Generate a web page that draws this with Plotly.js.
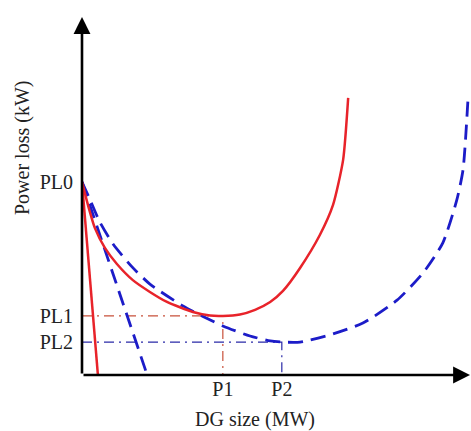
<!DOCTYPE html>
<html>
<head>
<meta charset="utf-8">
<script src="https://cdn.plot.ly/plotly-3.0.1.min.js"></script>
<style>html,body{margin:0;padding:0;background:#fff;}#chart{width:471px;height:431px;}</style>
</head>
<body>
<div id="chart"></div>
<script>
// Power loss vs DG size (schematic) (arbitrary units)
const redX  = [0, 0.10, 0.21, 0.33, 0.59, 0.90, 1.31, 1.75, 2.19, 2.86, 3.30, 3.63, 4.07, 4.46, 4.85, 5.18, 5.62, 6.13, 6.47, 6.73, 6.86];
const redY  = [5.39, 4.97, 4.53, 4.11, 3.55, 3.10, 2.65, 2.32, 2.04, 1.76, 1.66, 1.65, 1.69, 1.82, 2.04, 2.35, 2.99, 3.91, 4.75, 6.01, 7.74];
const blueX = [0, 0.21, 0.46, 0.80, 1.29, 1.75, 2.60, 3.63, 4.33, 4.85, 5.15, 5.62, 6.39, 7.24, 8.12, 8.79, 9.30, 9.66, 9.82, 9.95];
const blueY = [5.39, 4.89, 4.27, 3.66, 3.02, 2.54, 1.93, 1.37, 1.09, 0.95, 0.92, 0.92, 1.12, 1.45, 2.09, 2.85, 3.69, 4.89, 5.73, 7.74];
const redTangentX  = [0, 0.41];
const redTangentY  = [5.39, 0];
const blueTangentX = [0, 1.68];
const blueTangentY = [5.39, 0];
const PL0 = 5.39, PL1 = 1.65, PL2 = 0.92;
const P1 = 3.63, P2 = 5.15;
const yTickVals = [PL0, PL1, PL2];
const yTickText = ['PL0', 'PL1', 'PL2'];
const xTickVals = [P1, P2];
const xTickText = ['P1', 'P2'];
const xTitle = 'DG size (MW)';
const yTitle = 'Power loss (kW)';

const RED = '#e8232a', BLUE = '#1c1cc8';
const FONT = {family: '"Liberation Serif", "Times New Roman", serif', size: 20, color: '#222'};

const traces = [
  {x: [0, P1, P1], y: [PL1, PL1, 0], mode: 'lines', line: {color: '#c8503a', width: 1.2, dash: '10px,5px,2px,5px'}, hoverinfo: 'skip'},
  {x: [0, P2, P2], y: [PL2, PL2, 0], mode: 'lines', line: {color: '#2a2aa8', width: 1.2, dash: '10px,5px,2px,5px'}, hoverinfo: 'skip'},
  {x: redTangentX, y: redTangentY, mode: 'lines', line: {color: RED, width: 2.5}},
  {x: blueTangentX, y: blueTangentY, mode: 'lines', line: {color: BLUE, width: 2.8, dash: '15px,8px'}},
  {x: blueX, y: blueY, mode: 'lines', line: {color: BLUE, width: 2.8, dash: '15px,8px', shape: 'spline', smoothing: 0.6}},
  {x: redX, y: redY, mode: 'lines', line: {color: RED, width: 2.5, shape: 'spline', smoothing: 0.6}}
];

const layout = {
  width: 471, height: 431,
  margin: {l: 82, r: 1, t: 17, b: 56, pad: 0},
  paper_bgcolor: '#fff', plot_bgcolor: '#fff',
  showlegend: false,
  font: FONT,
  xaxis: {range: [0, 10], showgrid: false, zeroline: false, showline: false,
          tickvals: xTickVals, ticktext: xTickText, ticks: '',
          tickfont: FONT, fixedrange: true},
  yaxis: {range: [0, 10], showgrid: false, zeroline: false, showline: false,
          tickvals: yTickVals, ticktext: yTickText, ticks: 'outside', ticklen: 4,
          tickcolor: 'rgba(0,0,0,0)', tickfont: FONT, fixedrange: true},
  annotations: [
    {x: 10, y: 0, ax: 0, ay: 0, xref: 'x', yref: 'y', axref: 'x', ayref: 'y', text: '',
     showarrow: true, arrowhead: 2, arrowsize: 1.3, arrowwidth: 2.6, arrowcolor: '#000', standoff: 0},
    {x: 0, y: 10, ax: 0, ay: 0, xref: 'x', yref: 'y', axref: 'x', ayref: 'y', text: '',
     showarrow: true, arrowhead: 2, arrowsize: 1.3, arrowwidth: 2.6, arrowcolor: '#000', standoff: 0},
    {x: (255 - 82) / 388, y: (375 - 419) / 358, xref: 'paper', yref: 'paper', text: xTitle,
     showarrow: false, font: FONT, xanchor: 'center', yanchor: 'middle'},
    {x: (22 - 82) / 388, y: (375 - 148) / 358, xref: 'paper', yref: 'paper', text: yTitle,
     showarrow: false, font: FONT, textangle: -90, xanchor: 'center', yanchor: 'middle'}
  ]
};

Plotly.newPlot('chart', traces, layout, {displayModeBar: false, staticPlot: true});
</script>
</body>
</html>
